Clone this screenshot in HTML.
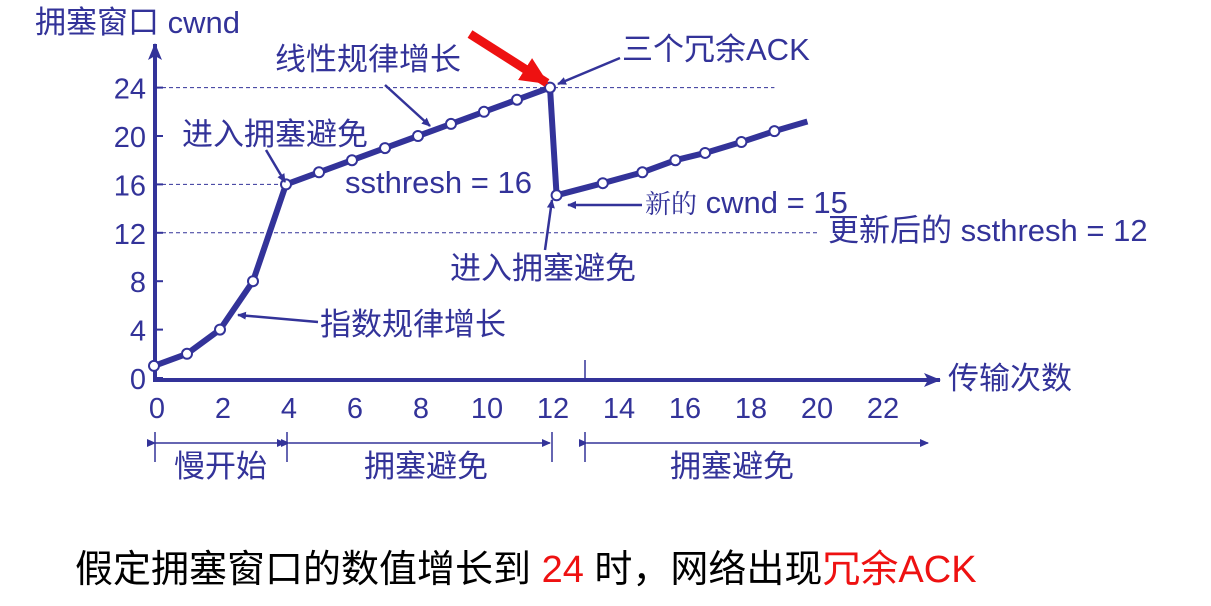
<!DOCTYPE html>
<html><head><meta charset="utf-8"><style>
body{margin:0;background:#fff}
svg{display:block}
text{font-family:"Liberation Sans","Noto Sans CJK SC",sans-serif}
</style></head><body>
<svg width="1211" height="606" viewBox="0 0 1211 606">
<defs>
<marker id="ah" markerWidth="10" markerHeight="10" refX="8" refY="5" orient="auto" markerUnits="userSpaceOnUse"><path d="M0,1 L9,5 L0,9 Z" fill="#333399"/></marker>
<marker id="ax" markerWidth="18" markerHeight="14" refX="16" refY="7" orient="auto" markerUnits="userSpaceOnUse"><path d="M0,0 L17,7 L0,14 L4,7 Z" fill="#333399"/></marker>
<marker id="ar" markerWidth="30" markerHeight="26" refX="26" refY="13" orient="auto" markerUnits="userSpaceOnUse"><path d="M0,0 L28,13 L0,26 Z" fill="#ee1111"/></marker>
</defs>
<g id="axes"></g>
<g id="marks"></g>
<g id="ann" fill="#333399" font-size="31">
<text x="35" y="33">拥塞窗口 cwnd</text>
<text x="948" y="389" font-size="31">传输次数</text>
<text x="275" y="70">线性规律增长</text>
<line x1="385" y1="85" x2="430" y2="126" stroke="#333399" stroke-width="2.5" marker-end="url(#ah)"/>
<text x="182" y="145">进入拥塞避免</text>
<line x1="266" y1="150" x2="285" y2="182" stroke="#333399" stroke-width="2.5" marker-end="url(#ah)"/>
<text x="345" y="193">ssthresh = 16</text>
<text x="622" y="60">三个冗余ACK</text>
<line x1="620" y1="58" x2="558" y2="84" stroke="#333399" stroke-width="2.5" marker-end="url(#ah)"/>
<line x1="470" y1="34" x2="547" y2="83" stroke="#ee1111" stroke-width="9" marker-end="url(#ar)"/>
<text x="645" y="213"><tspan font-family="'Noto Serif CJK SC',serif" font-size="26">新的</tspan> cwnd = 15</text>
<line x1="642" y1="205" x2="568" y2="205" stroke="#333399" stroke-width="2.5" marker-end="url(#ah)"/>
<text x="828" y="241">更新后的 ssthresh = 12</text>
<text x="450" y="279">进入拥塞避免</text>
<line x1="545" y1="250" x2="552" y2="200" stroke="#333399" stroke-width="2.5" marker-end="url(#ah)"/>
<text x="320" y="335">指数规律增长</text>
<line x1="318" y1="322" x2="238" y2="315" stroke="#333399" stroke-width="2.5" marker-end="url(#ah)"/>
<g stroke="#333399" stroke-width="1.5">
<line x1="155" y1="443" x2="285" y2="443" marker-start="url(#ah)" marker-end="url(#ah)"/>
<line x1="289" y1="443" x2="550" y2="443" marker-start="url(#ah)" marker-end="url(#ah)"/>
<line x1="587" y1="443" x2="928" y2="443" marker-start="url(#ah)" marker-end="url(#ah)"/>
<line x1="155" y1="432" x2="155" y2="462"/><line x1="287" y1="432" x2="287" y2="462"/><line x1="552" y1="432" x2="552" y2="462"/><line x1="585" y1="432" x2="585" y2="462"/>
<line x1="585" y1="360" x2="585" y2="380"/>
</g>
<text x="174" y="477">慢开始</text>
<text x="364" y="477">拥塞避免</text>
<text x="670" y="477">拥塞避免</text>
</g>
<text x="75" y="582" font-size="38" fill="#000">假定拥塞窗口的数值增长到 <tspan fill="#ee1111">24</tspan> 时，网络出现<tspan fill="#ee1111">冗余ACK</tspan></text>
</svg>
<script>
const xTicks=[0,2,4,6,8,10,12,14,16,18,20,22];
const yTicks=[0,4,8,12,16,20,24];
const s1x=[0,1,2,3,4,5,6,7,8,9,10,11,12];
const s1y=[1,2,4,8,16,17,18,19,20,21,22,23,24];
const s2x=[12.2,13.6,14.8,15.8,16.7,17.8,18.8];
const s2y=[15.1,16.1,17,18,18.6,19.5,20.4];
const s2endX=19.8, s2endY=21.2;
const dashes=[[24,18.8],[16,4],[12,20.1]];
const X=v=>154+v*33, Y=v=>378-v*12.1;
const NS='http://www.w3.org/2000/svg';
function mk(tag,at,parent){const e=document.createElementNS(NS,tag);for(const k in at)e.setAttribute(k,at[k]);parent.appendChild(e);return e;}
const ax=document.getElementById('axes'), mg=document.getElementById('marks');
let e=mk('line',{x1:155,y1:381,x2:155,y2:44,stroke:'#333399','stroke-width':4,'marker-end':'url(#ax)'},ax);


e=mk('line',{x1:153,y1:380,x2:940,y2:380,stroke:'#333399','stroke-width':4,'marker-end':'url(#ax)'},ax);


xTicks.forEach(t=>{const tx=mk('text',{x:X(t)+3,y:418,'text-anchor':'middle','font-size':29,fill:'#333399'},ax);tx.textContent=t;

});
yTicks.forEach(t=>{const tx=mk('text',{x:146,y:Y(t)+11,'text-anchor':'end','font-size':29,fill:'#333399'},ax);tx.textContent=t;


const tk=mk('line',{x1:155,y1:Y(t),x2:163,y2:Y(t),stroke:'#333399','stroke-width':2},ax);

});
dashes.forEach(d=>{const l=mk('line',{x1:155,y1:Y(d[0]),x2:X(d[1]),y2:Y(d[0]),stroke:'#333399','stroke-width':1,'stroke-dasharray':'4,3'},ax);

});
let pts=s1x.map((x,i)=>X(x)+','+Y(s1y[i]));
pts=pts.concat(s2x.map((x,i)=>X(x)+','+Y(s2y[i])));
pts.push(X(s2endX)+','+Y(s2endY));
e=mk('polyline',{points:pts.join(' '),fill:'none',stroke:'#333399','stroke-width':6,'stroke-linejoin':'round'},mg);


s1x.forEach((x,i)=>{const c=mk('circle',{cx:X(x),cy:Y(s1y[i]),r:5,fill:'#fff',stroke:'#333399','stroke-width':2},mg);

});
s2x.forEach((x,i)=>{const c=mk('circle',{cx:X(x),cy:Y(s2y[i]),r:5,fill:'#fff',stroke:'#333399','stroke-width':2},mg);

});
</script>
</body></html>
